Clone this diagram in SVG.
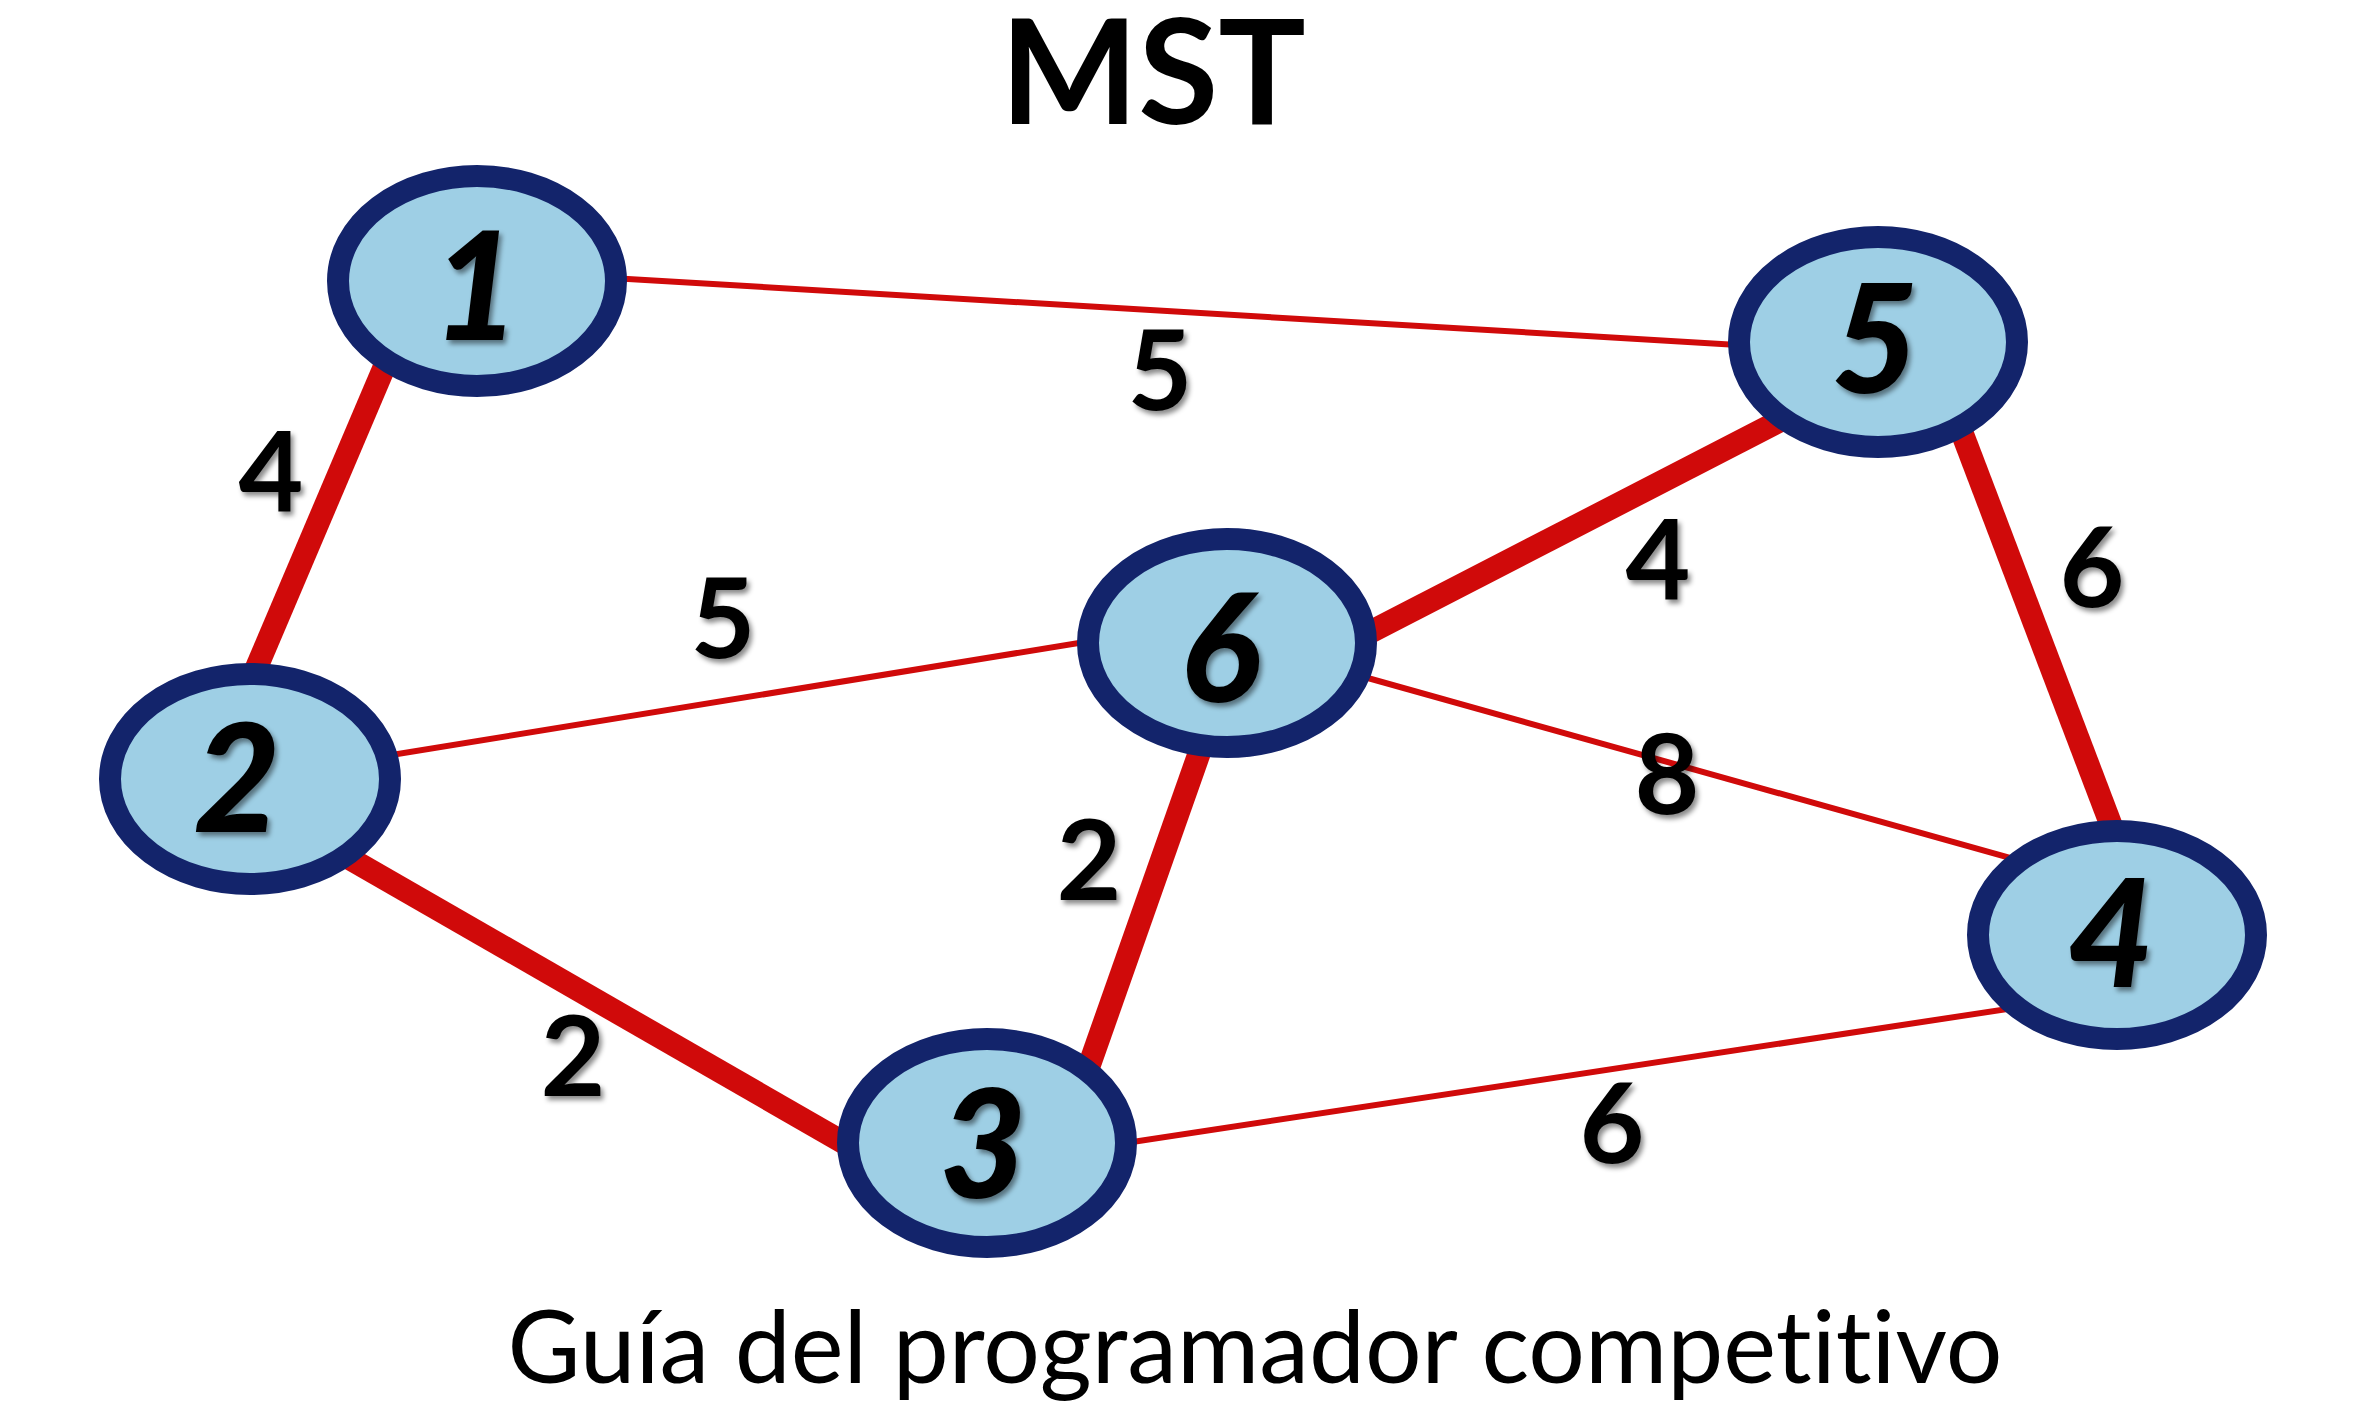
<svg xmlns="http://www.w3.org/2000/svg" width="2363" height="1403" viewBox="0 0 2363 1403">
<defs>
<filter id="sh" x="-30%" y="-30%" width="160%" height="160%">
<feDropShadow dx="3" dy="4" stdDeviation="2.5" flood-color="#000" flood-opacity="0.45"/>
</filter>
<style>
.thin{stroke:#D00A0A;stroke-width:6;fill:none}
.thick{stroke:#D00A0A;stroke-width:23;fill:none}
.node ellipse{fill:#9ECFE5;stroke:#13246B;stroke-width:22}
.num{font-family:Lato,"DejaVu Sans",sans-serif;font-weight:900;font-style:italic;font-size:150px;fill:#000;text-anchor:middle;filter:url(#sh)}
.w{font-family:Lato,"DejaVu Sans",sans-serif;font-weight:bold;font-size:112px;fill:#000;text-anchor:middle;filter:url(#sh)}
.title{font-family:Lato,"Liberation Sans",sans-serif;font-weight:bold;font-size:146px;fill:#000;text-anchor:middle}
.sub{font-family:Lato,"Liberation Sans",sans-serif;font-size:100px;fill:#000;text-anchor:middle;font-variant-ligatures:none}
</style>
</defs>
<rect width="2363" height="1403" fill="#fff"/>
<text class="title" x="1153" y="124">MST</text>
<g id="connectors">
<line class="thin" x1="560" y1="275" x2="1790" y2="348"/>
<line class="thick" x1="420" y1="283" x2="230" y2="730"/>
<line class="thin" x1="330" y1="765" x2="1140" y2="633"/>
<line class="thick" x1="1320" y1="658" x2="1830" y2="395"/>
<line class="thick" x1="1945" y1="388" x2="2130" y2="875"/>
<line class="thin" x1="1300" y1="659" x2="2060" y2="872"/>
<line class="thick" x1="1225" y1="680" x2="1070" y2="1120"/>
<line class="thick" x1="300" y1="830" x2="900" y2="1175"/>
<line class="thin" x1="1060" y1="1153" x2="2060" y2="1001"/>
</g>
<g id="edge-labels">
<text class="w" x="1160" y="410">5</text>
<text class="w" x="271" y="512">4</text>
<text class="w" x="723" y="658">5</text>
<text class="w" x="1658" y="600">4</text>
<text class="w" x="2092" y="607">6</text>
<text class="w" x="1667" y="814">8</text>
<text class="w" x="1089" y="900">2</text>
<text class="w" x="573" y="1096">2</text>
<text class="w" x="1612" y="1163">6</text>
</g>
<g id="node1" class="node"><ellipse cx="477" cy="281" rx="139" ry="105"/><text class="num" x="476" y="340">1</text></g>
<g id="node2" class="node"><ellipse cx="250" cy="779" rx="140" ry="105"/><text class="num" x="237" y="832">2</text></g>
<g id="node6" class="node"><ellipse cx="1227" cy="643" rx="139" ry="104"/><text class="num" x="1220" y="702">6</text></g>
<g id="node5" class="node"><ellipse cx="1878" cy="342" rx="139" ry="105"/><text class="num" x="1875" y="393">5</text></g>
<g id="node3" class="node"><ellipse cx="987" cy="1143" rx="139" ry="104"/><text class="num" x="983" y="1198">3</text></g>
<g id="node4" class="node"><ellipse cx="2117" cy="935" rx="139" ry="104"/><text class="num" x="2111" y="987">4</text></g>
<text class="sub" x="1255" y="1383">Guía del programador competitivo</text>
</svg>
